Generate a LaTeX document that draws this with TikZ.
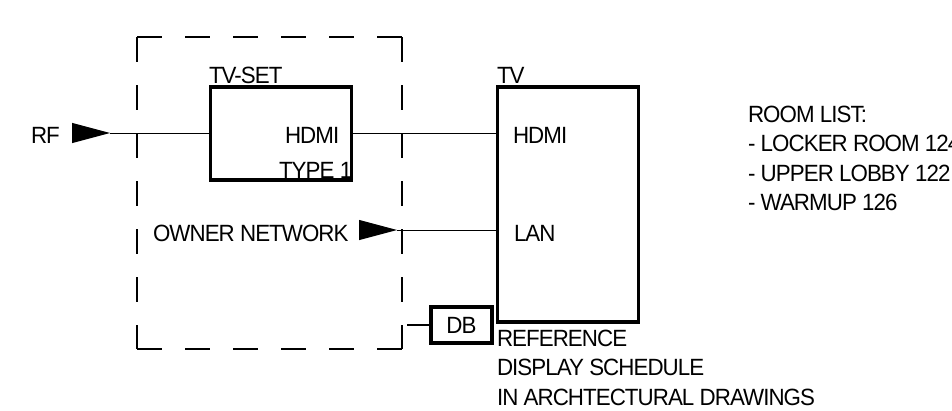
\documentclass[tikz,border=0pt]{standalone}
\usepackage{fontspec}
\setmainfont[LetterSpace=-4, FakeStretch=0.95]{Liberation Sans}
\usetikzlibrary{positioning, arrows.meta}
\tikzset{
    devbox/.style={draw=black, line width=3.5pt, minimum width=141pt, outer sep=0pt, inner sep=0pt},
    tag/.style={inner sep=0pt, outer sep=0pt, text=black, font=\fontsize{23.5}{29.4}\selectfont, anchor=base west},
    wire/.style={draw=black, line width=1pt},
    feed/.style={draw=black, line width=1pt, -{Triangle[length=38pt, width=20pt, sep=0pt]}},
    bound/.style={draw=black, line width=1.5pt, dash pattern=on 25pt off 23pt}
}

\begin{document}
\begin{tikzpicture}[x=1pt, y=-1pt]
        \useasboundingbox (0,0) rectangle (952,410);

        % Limite da rede
        \coordinate (c1) at (137,37);
        \coordinate (c2) at (402,37);
        \coordinate (c3) at (402,349);
        \coordinate (c4) at (137,349);
        \draw[bound] (c1) -- (c2);
        \draw[bound] (c2) -- (c3);
        \draw[bound] (c4) -- (c3);
        \draw[bound] (c1) -- (c4);

        % Equipamentos
        \node[devbox, minimum height=93pt] (tvset) at (281,133.5) {};
        \node[devbox, minimum height=235pt, anchor=north west, below right=0pt and 146pt of tvset.north east] (tv) {};
        \node[devbox, minimum width=61pt, minimum height=36pt, font=\fontsize{23.5}{29.4}\selectfont] (db) at (461.5,325) {DB};

        % Pontos livres
        \coordinate (rftail) at (72,133);
        \coordinate (rftip) at (110,133);
        \coordinate (lantail) at (360,230);
        \coordinate (lantip) at (397,230);
        \coordinate (dbstub) at (407,325);

        % Setas
        \draw[feed] (rftail) -- (rftip);
        \draw[wire] (rftip) -- (rftip -| tvset.west);
        \draw[wire] (tvset.east |- rftip) -- (tv.west |- rftip);
        \draw[feed] (lantail) -- (lantip);
        \draw[wire] (lantip) -- (lantip -| tv.west);
        \draw[draw=black, line width=2.5pt] (dbstub) -- (db.west);

        % Textos
        \node[tag] (rflabel) at (31,143) {RF};
        \node[tag] (tvsetlabel) at (209,83) {TV-SET};
        \node[tag] (hdmiout) at (285,143) {HDMI};
        \node[tag] (typelabel) at (279,178) {TYPE 1};
        \node[tag] (tvlabel) at (497,83) {TV};
        \node[tag] (hdmiin) at (513,143) {HDMI};
        \node[tag] (lanin) at (514,241) {LAN};
        \node[tag] (ownerlabel) at (153,241) {OWNER NETWORK};
        \node[tag, align=left, anchor=north west] (reflabel) at (497,330) {REFERENCE\\DISPLAY SCHEDULE\\IN ARCHTECTURAL DRAWINGS};
        \node[tag, align=left, anchor=north west] (roomlist) at (748,106) {ROOM LIST:\\- LOCKER ROOM 124\\- UPPER LOBBY 122\\- WARMUP 126};
    \end{tikzpicture}
\end{document}
